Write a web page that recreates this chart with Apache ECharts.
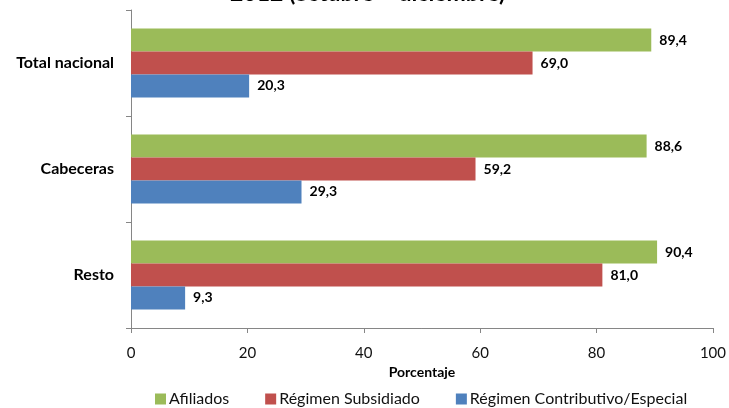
<!DOCTYPE html>
<html><head><meta charset="utf-8">
<script src="https://cdn.jsdelivr.net/npm/echarts@6/dist/echarts.min.js"></script>
<style>html,body{margin:0;padding:0;background:#fff}#c{width:729px;height:408px}</style>
</head><body><div id="c"></div>
<script>
var categories = ['Total nacional', 'Cabeceras', 'Resto'];
var afiliados = [89.4, 88.6, 90.4];
var subsidiado = [69.0, 59.2, 81.0];
var contributivo = [20.3, 29.3, 9.3];
var seriesNames = ['Afiliados', 'Régimen Subsidiado', 'Régimen Contributivo/Especial'];
var xTicks = [0, 20, 40, 60, 80, 100];
var titleText = '2012 (octubre – diciembre)';

var FONT = 'Lato, "Open Sans", sans-serif';
var chart = echarts.init(document.getElementById('c'), null, {renderer: 'canvas'});
function lbl(){
  return {show: true, position: 'right', distance: 8, color: '#000', fontFamily: FONT, fontWeight: 'bold', fontSize: 14,
    padding: [3, 0, 0, 0],
    formatter: function(p){ return p.value.toFixed(1).replace('.', ','); }};
}
var colors = ['#9BBB59', '#C0504D', '#4F81BD'];
var dataSets = [afiliados, subsidiado, contributivo];
chart.setOption({
  animation: false,
  title: {text: titleText, left: 225, top: -23, textStyle: {fontFamily: FONT, fontWeight: 'bold', fontSize: 23, color: '#000'}},
  legend: {left: 150, top: 386, itemWidth: 11, itemHeight: 11, itemGap: 36, icon: 'rect',
    textStyle: {fontFamily: FONT, fontSize: 16, color: '#111', padding: [0,0,0,-2]},
    data: seriesNames},
  grid: {left: 131, right: 15, top: 10, bottom: 80, containLabel: false},
  xAxis: {type: 'value', min: 0, max: 100, interval: 20,
    name: 'Porcentaje', nameLocation: 'middle', nameGap: 36,
    nameTextStyle: {fontFamily: FONT, fontWeight: 'bold', fontSize: 14, color: '#000'},
    axisLine: {show: true, lineStyle: {color: '#868686'}},
    axisTick: {show: true, length: 5, lineStyle: {color: '#868686'}},
    axisLabel: {fontFamily: FONT, fontSize: 15, color: '#111', margin: 18,
      formatter: function(v){ return xTicks.indexOf(v) >= 0 ? String(v) : ''; }},
    splitLine: {show: false}},
  yAxis: {type: 'category', data: categories, inverse: true,
    axisLine: {show: true, lineStyle: {color: '#868686'}},
    axisTick: {show: true, length: 5, lineStyle: {color: '#868686'}},
    axisLabel: {fontFamily: FONT, fontWeight: 'bold', fontSize: 16, color: '#000', margin: 17, padding: [5, 0, 0, 0]}},
  series: seriesNames.map(function(n, i){
    return {name: n, type: 'bar', data: dataSets[i], barGap: '0%', barCategoryGap: '35%',
      itemStyle: {color: colors[i]}, label: lbl()};
  })
});
</script></body></html>
